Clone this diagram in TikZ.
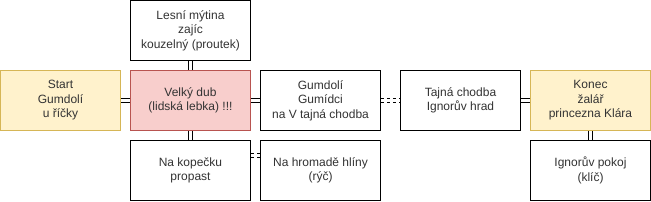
\documentclass[tikz,border=0pt]{standalone}
\usepackage{fontspec}
\setmainfont{Liberation Sans}
\definecolor{startfill}{HTML}{FFF2CC}
\definecolor{startdraw}{HTML}{D6B656}
\definecolor{dubfill}{HTML}{F8CECC}
\definecolor{dubdraw}{HTML}{B85450}
\definecolor{textgray}{HTML}{333333}
\begin{document}
\begin{tikzpicture}[x=1pt, y=-1pt,
box/.style={draw, line width=1pt, fill=white, align=center, text=textgray, minimum width=120pt, minimum height=60pt, inner sep=0pt, font=\fontsize{12}{14.5}\selectfont},
endbox/.style={box, draw=startdraw, fill=startfill},
dubbox/.style={box, draw=dubdraw, fill=dubfill},
link/.style={line width=1pt, double, double distance=3pt}
]
\useasboundingbox (-0.5,-0.5) rectangle (650.5,200.5);
\node[endbox] (start) at (60,100) {Start\\Gumdolí\\u říčky};
\node[dubbox] (dub) at (190,100) {Velký dub\\(lidská lebka) !!!};
\node[box] (mytina) at (190,30) {Lesní mýtina\\zajíc\\kouzelný (proutek)};
\node[box] (kopecek) at (190,170) {Na kopečku\\propast};
\node[box] (gumdoli) at (320,100) {Gumdolí\\Gumídci\\na V tajná chodba};
\node[box] (hromada) at (320,170) {Na hromadě hlíny\\(rýč)};
\node[box] (chodba) at (460,100) {Tajná chodba\\Ignorův hrad};
\node[endbox] (konec) at (590,100) {Konec\\žalář\\princezna Klára};
\node[box] (pokoj) at (590,170) {Ignorův pokoj\\(klíč)};
\draw[link] (start) -- (dub);
\draw[link] (dub) -- (mytina);
\draw[link] (dub) -- (kopecek);
\draw[link] (dub) -- (gumdoli);
\draw[link, dashed] (gumdoli) -- (chodba);
\draw[link] (chodba) -- (konec);
\draw[link] (konec) -- (pokoj);
\draw[link, dashed] ([yshift=15pt]kopecek.east) -- ([yshift=15pt]hromada.west);
\end{tikzpicture}
\end{document}
